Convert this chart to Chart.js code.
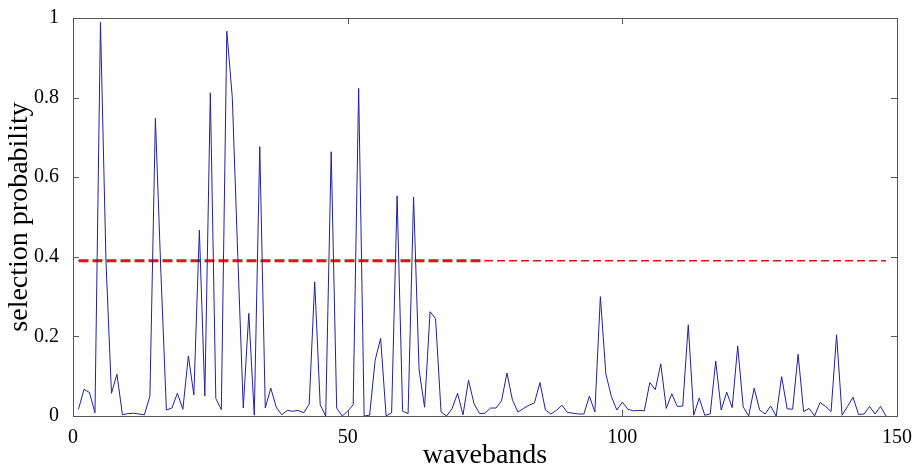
<!DOCTYPE html>
<html>
<head>
<meta charset="utf-8">
<title>selection probability</title>
<script src="https://cdn.jsdelivr.net/npm/chart.js@4/dist/chart.umd.min.js"></script>
<style>
  html, body { margin: 0; padding: 0; background: #fff; }
  #wrap { width: 914px; height: 468px; }
</style>
</head>
<body>
<div id="wrap"><canvas id="myChart"></canvas></div>
<script>
// selection probability for each waveband (1..148)
const probability = [
  0.017, 0.067, 0.059, 0.008, 0.99, 0.39, 0.057, 0.105, 0.003, 0.006,
  0.007, 0.005, 0.003, 0.05, 0.748, 0.36, 0.015, 0.02, 0.057, 0.017,
  0.151, 0.053, 0.467, 0.05, 0.812, 0.044, 0.016, 0.967, 0.80, 0.40,
  0.02, 0.258, 0.002, 0.677, 0.02, 0.07, 0.022, 0.003, 0.014, 0.012,
  0.014, 0.008, 0.03, 0.337, 0.028, 0.0, 0.664, 0.02, 0.0, 0.012,
  0.028, 0.823, 0.0, 0.002, 0.14, 0.195, 0.0, 0.008, 0.553, 0.012,
  0.006, 0.55, 0.116, 0.022, 0.262, 0.245, 0.01, 0.0, 0.018, 0.057,
  0.003, 0.09, 0.031, 0.006, 0.007, 0.02, 0.02, 0.038, 0.108, 0.04,
  0.01, 0.019, 0.027, 0.033, 0.084, 0.015, 0.005, 0.014, 0.027, 0.009,
  0.007, 0.005, 0.005, 0.05, 0.01, 0.3, 0.106, 0.049, 0.015, 0.035,
  0.017, 0.013, 0.014, 0.013, 0.084, 0.066, 0.131, 0.019, 0.056, 0.024,
  0.025, 0.229, 0.002, 0.045, 0.002, 0.005, 0.138, 0.015, 0.06, 0.021,
  0.176, 0.023, 0.0, 0.07, 0.015, 0.005, 0.025, 0.0, 0.099, 0.018,
  0.017, 0.155, 0.011, 0.019, 0.0, 0.034, 0.024, 0.011, 0.204, 0.002,
  0.024, 0.047, 0.004, 0.005, 0.024, 0.005, 0.024, 0.0
];
const bands = probability.map((_, i) => i + 1);

// threshold line, drawn heavier over the first half of the bands
const threshold = 0.39;
const splitBand = 75;

const xTicks = [0, 50, 100, 150];
const yTicks = [0, 0.2, 0.4, 0.6, 0.8, 1];

const series = bands.map((b, i) => ({ x: b, y: probability[i] }));
const firstBand = bands[0];
const lastBand = bands[bands.length - 1];

// matlab-like box with ticks pointing inwards
const boxPlugin = {
  id: 'box',
  afterDraw(chart) {
    const { ctx, chartArea: a, scales } = chart;
    const len = 6;
    ctx.save();
    ctx.strokeStyle = '#555';
    ctx.lineWidth = 1;
    ctx.strokeRect(a.left + 0.5, a.top + 0.5, a.right - a.left, a.bottom - a.top);
    ctx.beginPath();
    xTicks.forEach(v => {
      const px = Math.round(scales.x.getPixelForValue(v)) + 0.5;
      ctx.moveTo(px, a.bottom); ctx.lineTo(px, a.bottom - len);
      ctx.moveTo(px, a.top); ctx.lineTo(px, a.top + len);
    });
    yTicks.forEach(v => {
      const py = Math.round(scales.y.getPixelForValue(v)) + 0.5;
      ctx.moveTo(a.left, py); ctx.lineTo(a.left + len, py);
      ctx.moveTo(a.right, py); ctx.lineTo(a.right - len, py);
    });
    ctx.stroke();
    ctx.restore();
  }
};

const serif = 'Liberation Serif, Times New Roman, serif';

const ctx = document.getElementById('myChart').getContext('2d');
const myChart = new Chart(ctx, {
  type: 'line',
  data: {
    datasets: [
      {
        data: series,
        borderColor: 'rgb(32,32,165)',
        borderWidth: 1,
        pointRadius: 0,
        tension: 0
      },
      {
        data: [{ x: firstBand, y: threshold }, { x: splitBand, y: threshold }],
        borderColor: 'rgb(222,20,20)',
        borderWidth: 3,
        borderDash: [10, 4],
        pointRadius: 0
      },
      {
        data: [{ x: splitBand, y: threshold }, { x: lastBand, y: threshold }],
        borderColor: 'rgb(222,20,20)',
        borderWidth: 1.5,
        borderDash: [8, 4],
        pointRadius: 0
      }
    ]
  },
  options: {
    responsive: true,
    maintainAspectRatio: false,
    animation: false,
    layout: { padding: { top: 18, right: 17, left: 0, bottom: 0 } },
    plugins: {
      legend: { display: false },
      tooltip: { enabled: false }
    },
    scales: {
      x: {
        type: 'linear',
        min: 0,
        max: 150,
        afterBuildTicks: s => { s.ticks = xTicks.map(v => ({ value: v })); },
        afterFit: s => { s.height = 52; },
        grid: { display: false },
        border: { display: false },
        ticks: {
          color: '#000',
          padding: 2,
          maxRotation: 0,
          font: { family: serif, size: 20 },
          callback: v => String(v)
        },
        title: {
          display: true,
          text: 'wavebands',
          color: '#000',
          font: { family: serif, size: 28, lineHeight: 0.9 },
          padding: { top: 0, bottom: 0 }
        }
      },
      y: {
        min: 0,
        max: 1,
        afterBuildTicks: s => { s.ticks = yTicks.map(v => ({ value: v })); },
        afterFit: s => { s.width = 73; },
        grid: { display: false },
        border: { display: false },
        ticks: {
          color: '#000',
          padding: 6,
          font: { family: serif, size: 20 },
          callback: v => String(v)
        },
        title: {
          display: true,
          text: 'selection probability',
          color: '#000',
          font: { family: serif, size: 28, lineHeight: 1.1 },
          padding: { top: 4, bottom: 0 }
        }
      }
    }
  },
  plugins: [boxPlugin]
});
</script>
</body>
</html>
